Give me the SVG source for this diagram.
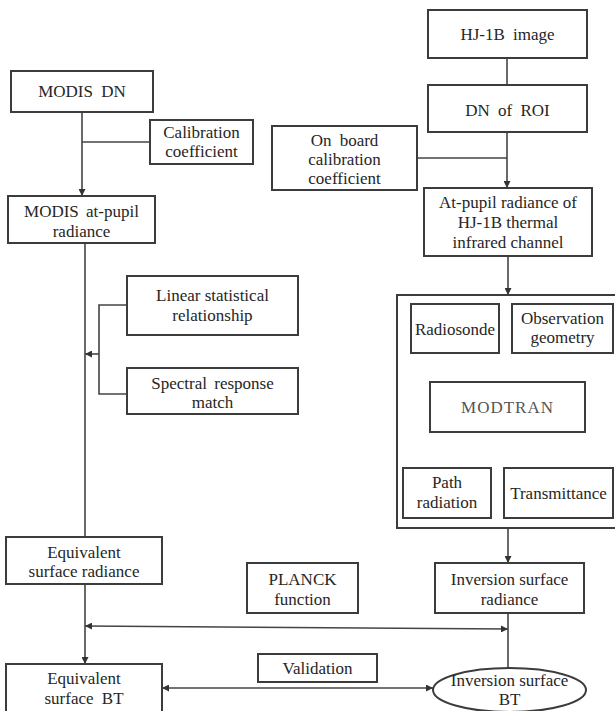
<svg xmlns="http://www.w3.org/2000/svg" width="615" height="711" viewBox="0 0 615 711">
<defs>
<marker id="arr" viewBox="0 0 8 8" refX="8" refY="4" markerWidth="7" markerHeight="7" markerUnits="userSpaceOnUse" orient="auto-start-reverse">
<path d="M0,0 L8,4 L0,8 z" fill="#333"/>
</marker>
<style>
rect, ellipse { fill: #fff; stroke: #3c3c3c; stroke-width: 2; }
text { font-family: "Liberation Serif", "Times New Roman", "DejaVu Serif", serif; font-size: 17px; fill: #262626; text-anchor: middle; }
.c { fill: none; stroke: #444; stroke-width: 1.6; }
</style>
</defs>
<rect width="615" height="711" fill="#fff" style="stroke:none"/>

<g id="connectors">
<path class="c" d="M82,112 V196" marker-end="url(#arr)"/>
<path class="c" d="M150,142 H82"/>
<path class="c" d="M507,58 V85"/>
<path class="c" d="M507,132 V188" marker-end="url(#arr)"/>
<path class="c" d="M417,158 H507"/>
<path class="c" d="M85,243 V537"/>
<path class="c" d="M127,305 H99 V394 H127"/>
<path class="c" d="M99,354 H85" marker-end="url(#arr)"/>
<path class="c" d="M508,256 V295" marker-end="url(#arr)"/>
<path class="c" d="M453,353 V366 H563 V353"/>
<path class="c" d="M508,366 V382"/>
<path class="c" d="M508,432 V450"/>
<path class="c" d="M447,468 V450 H560 V468"/>
<path class="c" d="M508,528 V563" marker-end="url(#arr)"/>
<path class="c" d="M85,584 V664" marker-end="url(#arr)"/>
<path class="c" d="M85,626 L508,629" marker-start="url(#arr)" marker-end="url(#arr)"/>
<path class="c" d="M508,613 V668"/>
<path class="c" d="M162,688 H433" marker-start="url(#arr)" marker-end="url(#arr)"/>
</g>

<g id="modis-dn">
<rect x="11" y="71" width="142" height="41"/>
<text x="82" y="97" word-spacing="4">MODIS DN</text>
</g>
<g id="calibration-coefficient">
<rect x="150" y="120" width="103" height="44"/>
<text x="201.5" y="138">Calibration</text>
<text x="201.5" y="157">coefficient</text>
</g>
<g id="modis-at-pupil">
<rect x="8" y="196" width="147" height="47"/>
<text x="81.5" y="217" word-spacing="3">MODIS at-pupil</text>
<text x="81.5" y="237">radiance</text>
</g>
<g id="hj1b-image">
<rect x="428" y="10" width="159" height="48"/>
<text x="507.5" y="40" word-spacing="4">HJ-1B image</text>
</g>
<g id="dn-of-roi">
<rect x="428" y="85" width="159" height="47"/>
<text x="507.5" y="116" word-spacing="4">DN of ROI</text>
</g>
<g id="onboard-calibration">
<rect x="272" y="126" width="145" height="64"/>
<text x="344.5" y="146" word-spacing="4">On board</text>
<text x="344.5" y="165">calibration</text>
<text x="344.5" y="184">coefficient</text>
</g>
<g id="hj1b-at-pupil">
<rect x="424" y="188" width="168" height="68"/>
<text x="508" y="208">At-pupil radiance of</text>
<text x="508" y="228">HJ-1B thermal</text>
<text x="508" y="248">infrared channel</text>
</g>
<g id="linear-statistical">
<rect x="127" y="276" width="171" height="59"/>
<text x="212.5" y="301">Linear statistical</text>
<text x="212.5" y="321">relationship</text>
</g>
<g id="spectral-response">
<rect x="127" y="368" width="171" height="46"/>
<text x="212.5" y="389" word-spacing="3">Spectral response</text>
<text x="212.5" y="408">match</text>
</g>
<g id="atmosphere-box">
<rect x="397" y="295" width="222" height="233"/>
</g>
<g id="radiosonde">
<rect x="411" y="304" width="88" height="49"/>
<text x="455" y="335" textLength="80" lengthAdjust="spacingAndGlyphs">Radiosonde</text>
</g>
<g id="observation-geometry">
<rect x="512" y="304" width="101" height="49"/>
<text x="562.5" y="324">Observation</text>
<text x="562.5" y="343">geometry</text>
</g>
<g id="modtran">
<rect x="430" y="382" width="155" height="50"/>
<text x="507.5" y="413" style="fill:#555" letter-spacing="1">MODTRAN</text>
</g>
<g id="path-radiation">
<rect x="403" y="468" width="88" height="50"/>
<text x="447" y="488">Path</text>
<text x="447" y="508">radiation</text>
</g>
<g id="transmittance">
<rect x="504" y="468" width="109" height="50"/>
<text x="558.5" y="499">Transmittance</text>
</g>
<g id="equivalent-surface-radiance">
<rect x="6" y="537" width="156" height="47"/>
<text x="84" y="558">Equivalent</text>
<text x="84" y="577">surface radiance</text>
</g>
<g id="planck-function">
<rect x="247" y="563" width="111" height="50"/>
<text x="302.5" y="585">PLANCK</text>
<text x="302.5" y="605">function</text>
</g>
<g id="inversion-surface-radiance">
<rect x="435" y="563" width="149" height="50"/>
<text x="509.5" y="585">Inversion surface</text>
<text x="509.5" y="605">radiance</text>
</g>
<g id="equivalent-surface-bt">
<rect x="6" y="664" width="156" height="52"/>
<text x="84" y="684">Equivalent</text>
<text x="84" y="704" word-spacing="4">surface BT</text>
</g>
<g id="validation">
<rect x="258" y="654" width="119" height="28"/>
<text x="317.5" y="674">Validation</text>
</g>
<g id="inversion-surface-bt">
<ellipse cx="509.5" cy="690" rx="76.5" ry="22"/>
<text x="509.5" y="686">Inversion surface</text>
<text x="509.5" y="705">BT</text>
</g>
</svg>
